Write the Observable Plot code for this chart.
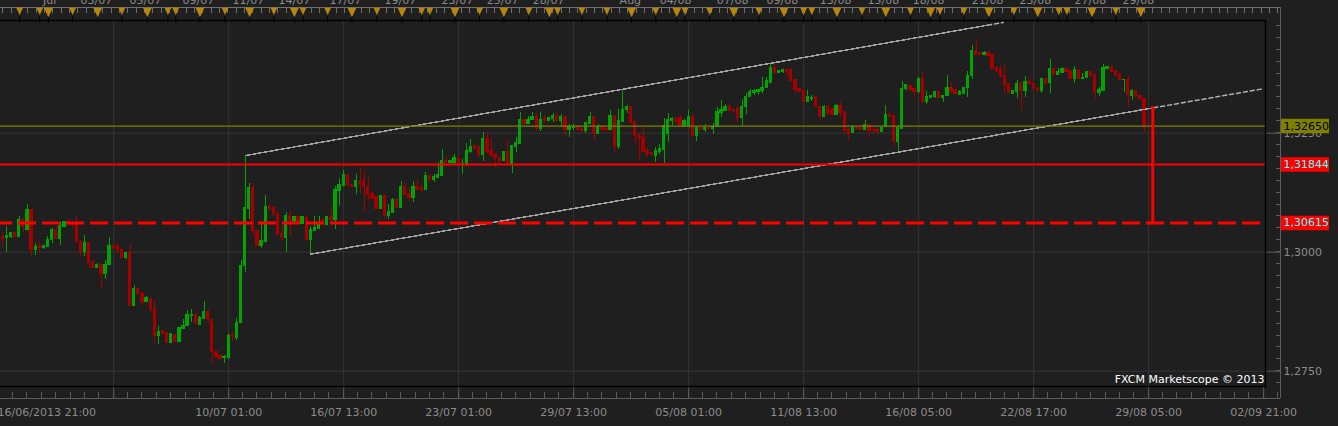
<!DOCTYPE html>
<html><head><meta charset="utf-8">
<script src="https://cdn.jsdelivr.net/npm/d3@7"></script>
<script src="https://cdn.jsdelivr.net/npm/@observablehq/plot@0.6"></script>
<style>
html,body{margin:0;padding:0;background:#1f1f1f;overflow:hidden}
#chart svg{display:block}
</style></head><body><div id="chart"></div>
<script>
// ---- candle data (EUR/USD style prices, one candle per position) ----
const opens = [
1.3032,1.3030,1.3032,1.3040,1.3032,1.3067,1.3047,1.3088,1.3004,1.3012,
1.3008,1.3011,1.3026,1.3046,1.3027,1.3053,1.3063,1.3062,1.3060,1.3021,
1.3000,1.3020,1.2979,1.2966,1.2974,1.2954,1.2973,1.3012,1.3011,1.3004,
1.2987,1.2998,1.2886,1.2922,1.2913,1.2896,1.2902,1.2881,1.2824,1.2834,
1.2831,1.2809,1.2827,1.2811,1.2838,1.2845,1.2867,1.2869,1.2848,1.2859,
1.2875,1.2858,1.2791,1.2782,1.2777,1.2777,1.2826,1.2819,1.2851,1.2972,
1.3090,1.3134,1.3044,1.3013,1.3021,1.3096,1.3092,1.3081,1.3039,1.3030,
1.3075,1.3065,1.3074,1.3060,1.3072,1.3025,1.3044,1.3048,1.3067,1.3058,
1.3074,1.3067,1.3128,1.3140,1.3163,1.3142,1.3138,1.3147,1.3149,1.3138,
1.3123,1.3116,1.3091,1.3119,1.3077,1.3082,1.3109,1.3093,1.3138,1.3123,
1.3114,1.3138,1.3135,1.3130,1.3161,1.3151,1.3156,1.3161,1.3191,1.3187,
1.3187,1.3196,1.3184,1.3186,1.3210,1.3223,1.3219,1.3205,1.3237,1.3212,
1.3205,1.3198,1.3191,1.3210,1.3186,1.3222,1.3228,1.3277,1.3270,1.3277,
1.3285,1.3258,1.3279,1.3275,1.3279,1.3287,1.3275,1.3285,1.3256,1.3261,
1.3263,1.3259,1.3254,1.3270,1.3285,1.3249,1.3263,1.3259,1.3256,1.3287,
1.3220,1.3273,1.3298,1.3306,1.3273,1.3245,1.3240,1.3212,1.3208,1.3203,
1.3210,1.3214,1.3248,1.3275,1.3280,1.3282,1.3264,1.3263,1.3285,1.3245,
1.3261,1.3256,1.3261,1.3259,1.3263,1.3292,1.3296,1.3306,1.3299,1.3301,
1.3282,1.3304,1.3326,1.3334,1.3336,1.3338,1.3345,1.3356,1.3388,1.3376,
1.3378,1.3382,1.3382,1.3361,1.3342,1.3338,1.3315,1.3322,1.3325,1.3306,
1.3285,1.3306,1.3300,1.3289,1.3308,1.3294,1.3257,1.3250,1.3261,1.3261,
1.3257,1.3268,1.3257,1.3256,1.3252,1.3263,1.3289,1.3287,1.3231,1.3259,
1.3342,1.3350,1.3342,1.3336,1.3363,1.3315,1.3323,1.3327,1.3336,1.3324,
1.3328,1.3344,1.3340,1.3331,1.3333,1.3345,1.3370,1.3422,1.3418,1.3414,
1.3418,1.3415,1.3387,1.3384,1.3371,1.3354,1.3333,1.3336,1.3354,1.3338,
1.3357,1.3354,1.3345,1.3338,1.3363,1.3355,1.3385,1.3373,1.3376,1.3384,
1.3380,1.3363,1.3383,1.3364,1.3366,1.3379,1.3373,1.3334,1.3338,1.3384,
1.3390,1.3380,1.3373,1.3361,1.3362,1.3329,1.3338,1.3328,1.3322];
const highs = [
1.3042,1.3054,1.3042,1.3042,1.3074,1.3070,1.3100,1.3088,1.3018,1.3023,
1.3014,1.3032,1.3049,1.3053,1.3063,1.3065,1.3068,1.3062,1.3075,1.3025,
1.3035,1.3020,1.2983,1.2977,1.2974,1.2983,1.3030,1.3013,1.3020,1.3004,
1.2999,1.3016,1.2929,1.2923,1.2915,1.2906,1.2902,1.2896,1.2844,1.2836,
1.2832,1.2829,1.2828,1.2840,1.2858,1.2878,1.2880,1.2869,1.2865,1.2896,
1.2878,1.2858,1.2792,1.2786,1.2783,1.2829,1.2834,1.2861,1.2983,1.3203,
1.3144,1.3145,1.3048,1.3065,1.3119,1.3100,1.3092,1.3081,1.3053,1.3083,
1.3088,1.3076,1.3075,1.3074,1.3077,1.3053,1.3074,1.3075,1.3070,1.3075,
1.3096,1.3137,1.3154,1.3172,1.3163,1.3143,1.3163,1.3175,1.3172,1.3156,
1.3126,1.3116,1.3119,1.3119,1.3100,1.3112,1.3112,1.3149,1.3144,1.3133,
1.3149,1.3153,1.3144,1.3168,1.3161,1.3163,1.3189,1.3216,1.3198,1.3193,
1.3205,1.3202,1.3195,1.3228,1.3236,1.3224,1.3224,1.3252,1.3254,1.3242,
1.3208,1.3198,1.3211,1.3235,1.3224,1.3242,1.3294,1.3278,1.3285,1.3294,
1.3292,1.3293,1.3287,1.3282,1.3291,1.3291,1.3290,1.3285,1.3268,1.3268,
1.3264,1.3259,1.3271,1.3294,1.3285,1.3268,1.3264,1.3261,1.3298,1.3287,
1.3299,1.3342,1.3309,1.3306,1.3273,1.3249,1.3261,1.3221,1.3210,1.3221,
1.3226,1.3280,1.3292,1.3284,1.3284,1.3287,1.3278,1.3298,1.3289,1.3263,
1.3262,1.3268,1.3265,1.3270,1.3304,1.3319,1.3310,1.3313,1.3301,1.3308,
1.3321,1.3333,1.3341,1.3341,1.3342,1.3366,1.3366,1.3397,1.3394,1.3382,
1.3384,1.3385,1.3385,1.3361,1.3345,1.3338,1.3340,1.3329,1.3325,1.3306,
1.3308,1.3308,1.3301,1.3311,1.3315,1.3294,1.3259,1.3266,1.3262,1.3262,
1.3277,1.3268,1.3263,1.3259,1.3262,1.3308,1.3296,1.3287,1.3266,1.3359,
1.3352,1.3350,1.3348,1.3366,1.3378,1.3338,1.3330,1.3338,1.3338,1.3329,
1.3371,1.3356,1.3341,1.3340,1.3347,1.3380,1.3434,1.3447,1.3419,1.3422,
1.3422,1.3415,1.3390,1.3390,1.3392,1.3354,1.3340,1.3361,1.3357,1.3369,
1.3362,1.3359,1.3346,1.3364,1.3364,1.3405,1.3388,1.3385,1.3388,1.3385,
1.3380,1.3390,1.3384,1.3376,1.3380,1.3380,1.3373,1.3347,1.3394,1.3390,
1.3390,1.3381,1.3375,1.3363,1.3369,1.3341,1.3340,1.3329,1.3322];
const lows = [
1.3013,1.3000,1.3028,1.3031,1.3032,1.3042,1.3046,1.2991,1.2993,1.3000,
1.3006,1.3011,1.3019,1.3027,1.3014,1.3051,1.3056,1.3051,1.3021,1.2991,
1.2991,1.2965,1.2965,1.2965,1.2924,1.2943,1.2973,1.3006,1.3002,1.2987,
1.2985,1.2885,1.2885,1.2911,1.2889,1.2894,1.2871,1.2809,1.2807,1.2828,
1.2808,1.2808,1.2810,1.2810,1.2838,1.2845,1.2853,1.2848,1.2848,1.2859,
1.2853,1.2765,1.2779,1.2775,1.2767,1.2775,1.2812,1.2815,1.2851,1.2957,
1.3069,1.3035,1.3011,1.3007,1.3021,1.3088,1.3076,1.3035,1.3025,1.3000,
1.3034,1.3061,1.3062,1.3058,1.3022,1.2995,1.3044,1.3048,1.3056,1.3057,
1.3063,1.3048,1.3095,1.3140,1.3138,1.3137,1.3121,1.3124,1.3084,1.3107,
1.3110,1.3090,1.3090,1.3072,1.3068,1.3082,1.3091,1.3093,1.3121,1.3104,
1.3105,1.3130,1.3126,1.3130,1.3147,1.3146,1.3156,1.3161,1.3186,1.3186,
1.3184,1.3181,1.3163,1.3181,1.3208,1.3215,1.3198,1.3191,1.3208,1.3200,
1.3177,1.3187,1.3190,1.3182,1.3166,1.3210,1.3228,1.3268,1.3268,1.3277,
1.3256,1.3254,1.3271,1.3274,1.3273,1.3274,1.3261,1.3240,1.3240,1.3256,
1.3255,1.3249,1.3250,1.3270,1.3233,1.3249,1.3255,1.3252,1.3256,1.3209,
1.3216,1.3273,1.3291,1.3270,1.3228,1.3193,1.3210,1.3198,1.3203,1.3189,
1.3205,1.3186,1.3231,1.3266,1.3268,1.3263,1.3261,1.3263,1.3240,1.3233,
1.3256,1.3252,1.3257,1.3247,1.3263,1.3282,1.3296,1.3296,1.3292,1.3273,
1.3265,1.3289,1.3326,1.3329,1.3329,1.3334,1.3345,1.3354,1.3375,1.3375,
1.3376,1.3368,1.3359,1.3333,1.3336,1.3313,1.3315,1.3317,1.3303,1.3278,
1.3284,1.3288,1.3289,1.3289,1.3282,1.3252,1.3233,1.3249,1.3257,1.3256,
1.3256,1.3240,1.3249,1.3247,1.3252,1.3261,1.3284,1.3222,1.3207,1.3259,
1.3340,1.3338,1.3326,1.3334,1.3313,1.3310,1.3322,1.3322,1.3322,1.3315,
1.3328,1.3333,1.3332,1.3329,1.3331,1.3324,1.3363,1.3415,1.3414,1.3413,
1.3413,1.3383,1.3378,1.3368,1.3334,1.3333,1.3332,1.3322,1.3298,1.3326,
1.3352,1.3343,1.3338,1.3333,1.3354,1.3333,1.3371,1.3371,1.3376,1.3377,
1.3362,1.3355,1.3363,1.3362,1.3366,1.3370,1.3322,1.3327,1.3338,1.3383,
1.3378,1.3371,1.3361,1.3335,1.3305,1.3319,1.3324,1.3321,1.3252];
const closes = [
1.3028,1.3034,1.3040,1.3032,1.3067,1.3053,1.3088,1.3004,1.3011,1.3009,
1.3013,1.3026,1.3046,1.3027,1.3054,1.3063,1.3060,1.3058,1.3021,1.3000,
1.3020,1.2977,1.2967,1.2974,1.2954,1.2974,1.3012,1.3007,1.3002,1.2987,
1.2998,1.2886,1.2922,1.2912,1.2896,1.2904,1.2880,1.2824,1.2833,1.2829,
1.2809,1.2828,1.2811,1.2840,1.2846,1.2869,1.2869,1.2850,1.2861,1.2875,
1.2858,1.2790,1.2780,1.2776,1.2780,1.2825,1.2821,1.2852,1.2972,1.3092,
1.3134,1.3044,1.3013,1.3023,1.3096,1.3090,1.3080,1.3037,1.3030,1.3076,
1.3065,1.3073,1.3063,1.3074,1.3025,1.3046,1.3051,1.3058,1.3058,1.3074,
1.3067,1.3130,1.3142,1.3163,1.3140,1.3138,1.3149,1.3144,1.3137,1.3121,
1.3112,1.3091,1.3119,1.3077,1.3084,1.3109,1.3093,1.3138,1.3121,1.3114,
1.3138,1.3131,1.3130,1.3161,1.3151,1.3159,1.3163,1.3191,1.3187,1.3192,
1.3197,1.3186,1.3186,1.3212,1.3222,1.3216,1.3205,1.3237,1.3210,1.3203,
1.3198,1.3191,1.3210,1.3186,1.3224,1.3229,1.3277,1.3270,1.3278,1.3285,
1.3258,1.3278,1.3275,1.3281,1.3287,1.3275,1.3285,1.3256,1.3263,1.3263,
1.3256,1.3254,1.3271,1.3285,1.3249,1.3263,1.3256,1.3256,1.3287,1.3220,
1.3275,1.3299,1.3306,1.3271,1.3245,1.3240,1.3210,1.3207,1.3204,1.3212,
1.3216,1.3266,1.3277,1.3279,1.3274,1.3264,1.3275,1.3285,1.3245,1.3261,
1.3257,1.3261,1.3259,1.3263,1.3294,1.3298,1.3306,1.3296,1.3296,1.3282,
1.3304,1.3327,1.3336,1.3338,1.3340,1.3346,1.3359,1.3388,1.3376,1.3380,
1.3382,1.3379,1.3359,1.3340,1.3337,1.3315,1.3325,1.3324,1.3305,1.3285,
1.3306,1.3291,1.3289,1.3308,1.3292,1.3254,1.3249,1.3261,1.3258,1.3257,
1.3268,1.3254,1.3256,1.3252,1.3261,1.3289,1.3285,1.3231,1.3261,1.3343,
1.3352,1.3340,1.3336,1.3363,1.3315,1.3325,1.3329,1.3336,1.3324,1.3329,
1.3344,1.3336,1.3333,1.3336,1.3345,1.3371,1.3422,1.3415,1.3415,1.3418,
1.3413,1.3384,1.3380,1.3369,1.3352,1.3334,1.3338,1.3354,1.3338,1.3357,
1.3354,1.3343,1.3338,1.3363,1.3354,1.3385,1.3373,1.3378,1.3384,1.3378,
1.3363,1.3383,1.3364,1.3367,1.3379,1.3371,1.3334,1.3340,1.3387,1.3390,
1.3378,1.3371,1.3362,1.3362,1.3331,1.3338,1.3326,1.3322,1.3263];

// ---- time axis (candle positions) ----
const startLabel = "16/06/2013 21:00";
const bottomTickPositions = [55, 83, 111, 139, 167, 195, 223, 251, 279, 307];
const bottomTickLabels = ["10/07 01:00","16/07 13:00","23/07 01:00","29/07 13:00","05/08 01:00",
  "11/08 13:00","16/08 05:00","22/08 17:00","29/08 05:00","02/09 21:00"];
const gridPositions = [27, 55, 83, 111, 139, 167, 195, 223, 251, 279];
const topDayPositions = [11.4,22.8,34.7,47.6,59.8,71.0,83.4,96.8,110.7,121.7,132.9,152.8,163.8,177.7,189.8,202.8,214.4,225.4,239.8,251.4,264.8,276.5];
const topDayLabels = ["Jul","03/07","05/07","09/07","11/07","14/07","17/07","19/07","23/07","25/07","28/07",
  "Aug","04/08","07/08","09/08","13/08","15/08","18/08","21/08","23/08","27/08","29/08"];
const eventPositions = [4.1,9.0,11.1,17.0,23.1,29.0,35.2,40.2,42.1,48.0,54.1,60.1,66.0,71.0,73.1,79.1,85.0,91.1,97.2,102.0,
  104.0,110.1,116.1,122.0,128.1,133.1,135.1,141.0,147.1,153.1,159.0,164.1,166.1,172.1,178.0,184.1,190.2,195.0,197.0,203.1,
  209.2,215.0,221.0,225.9,228.2,234.0,240.1,246.2,252.0,257.1,259.1,265.2,271.0,277.1];
const eventMajor = [0,0,1,0,1,0,1,0,0,1,0,1,0,1,0,0,1,0,1,0,
  0,1,0,1,0,1,0,0,0,1,0,1,0,0,1,0,1,0,0,1,
  0,1,0,1,0,0,1,0,1,0,0,1,0,1];

// ---- price axis & levels ----
const yTickValues = [1.275, 1.3, 1.325];
const yTickLabels = ["1,2750", "1,3000", "1,3250"];
const levelValues = [1.3265, 1.31844, 1.30615];
const levelLabels = ["1,32650", "1,31844", "1,30615"];
const levelBg = ["#808000", "#ff0000", "#ff0000"];
const levelFg = ["#000000", "#4dffff", "#4dffff"];
const targetLine = [{i: 280, from: 1.30615, to: 1.3306}];
const channelUpper = [[59.1, 1.32031], [239.8, 1.34769]];
const channelUpperExt = [[239.8, 1.34769], [243.6, 1.34826]];
const channelLower = [[74.9, 1.29958], [280.25, 1.33034]];
const channelLowerExt = [[280.25, 1.33034], [307.0, 1.33435]];
const watermark = "FXCM Marketscope \u00A9 2013";

const GREEN = "#00a400", RED = "#a40000", GRID = "#353535", AXIS = "#5c5c5c", LABEL = "#8c8c8c";

const candles = opens.map((o, i) => ({i, open: o, high: highs[i], low: lows[i], close: closes[i], up: closes[i] > o}));
const bottomTicks = bottomTickPositions.map((p, k) => ({i: p, label: bottomTickLabels[k]}));
const topDays = topDayPositions.map((p, k) => ({i: p, label: topDayLabels[k]}));
const events = eventPositions.map((p, k) => ({i: p, major: eventMajor[k] === 1}));
const yTicks = yTickValues.map((v, k) => ({v, label: yTickLabels[k]}));
const levels = levelValues.map((v, k) => ({v, label: levelLabels[k], bg: levelBg[k], fg: levelFg[k]}));

const downTriangle = {
  draw(ctx, size) {
    const r = Math.sqrt(size / Math.PI);
    const w = r * 1.9, h = r * 2;
    ctx.moveTo(-w / 2, 0); ctx.lineTo(w / 2, 0); ctx.lineTo(0, h); ctx.closePath();
  }
};

// axis rulers (bottom time axis, right price axis, top event ruler) drawn via the plot's scales
const bottomMinor = d3.range(2.5, 311, 3.5);
const rightMinor = d3.range(0, 31).map(k => 1.2725 + k * 0.0025);
const rulerTicks = d3.range(0.1, 311, 2.029);
function axesDecor(index, scales, values, dims) {
  const x = scales.x, y = scales.y;
  const left = dims.marginLeft, right = dims.width - dims.marginRight;
  const top = dims.marginTop, bottom = dims.height - dims.marginBottom;
  const axisX = right + 15.3, axisY = bottom + 12.3, rulerY = top - 12.7;
  const g = d3.create("svg:g").attr("fill", "none").attr("shape-rendering", "crispEdges");
  const line = (x1, y1, x2, y2, c) => g.append("line").attr("x1", x1).attr("y1", y1).attr("x2", x2).attr("y2", y2).attr("stroke", c);
  line(left, axisY, axisX, axisY, AXIS);
  for (const t of bottomMinor) { const px = x(t); if (px <= axisX) line(px, axisY - 6.6, px, axisY, AXIS); }
  line(axisX, rulerY, axisX, axisY, AXIS);
  for (const v of rightMinor) { const py = y(v); line(axisX - 4.5, py, axisX, py, AXIS); }
  line(left, rulerY, axisX, rulerY, "#6e6e6e");
  for (const t of rulerTicks) { const px = x(t); if (px <= axisX) line(px, rulerY, px, rulerY + 5.5, "#6e6e6e"); }
  return g.node();
}

const chart = Plot.plot({
  width: 1338, height: 426,
  marginLeft: 0, marginRight: 73, marginTop: 20, marginBottom: 40,
  style: {background: "#1f1f1f", fontFamily: "DejaVu Sans", fontSize: "11px", color: LABEL},
  x: {domain: [-0.56, 307.45], axis: null},
  y: {domain: [1.271786, 1.348676], axis: null},
  color: {type: "identity"},
  marks: [
    Plot.ruleX(gridPositions, {x: d => d, stroke: GRID}),
    Plot.ruleX(gridPositions.concat([307]), {x: d => d, stroke: AXIS, insetTop: 366, insetBottom: -12.3}),
    Plot.ruleY(yTickValues, {y: d => d, stroke: GRID}),
    Plot.ruleY(yTickValues, {y: d => d, stroke: AXIS, insetLeft: 1266, insetRight: -15.3}),
    // candles
    Plot.ruleX(candles, {x: "i", y1: "low", y2: "high", stroke: d => d.up ? GREEN : RED, shapeRendering: "crispEdges"}),
    Plot.rect(candles, {x1: d => d.i - 0.4, x2: d => d.i + 0.4, y1: "open", y2: "close",
      fill: d => d.up ? GREEN : RED, insetTop: -0.5, insetBottom: -0.5, shapeRendering: "crispEdges"}),
    // channel
    Plot.line(channelUpper, {x: d => d[0], y: d => d[1], stroke: "#a0a0a0", shapeRendering: "crispEdges"}),
    Plot.line(channelUpperExt, {x: d => d[0], y: d => d[1], stroke: "#b0b0b0", strokeDasharray: "4,3"}),
    Plot.line(channelLower, {x: d => d[0], y: d => d[1], stroke: "#a0a0a0", shapeRendering: "crispEdges"}),
    Plot.line(channelLowerExt, {x: d => d[0], y: d => d[1], stroke: "#b0b0b0", strokeDasharray: "4,3"}),
    // levels
    Plot.ruleY([levelValues[0]], {y: d => d, stroke: "#808000", strokeWidth: 1.2}),
    Plot.ruleY([levelValues[1]], {y: d => d, stroke: "#ff0000", strokeWidth: 2}),
    Plot.ruleY([levelValues[2]], {y: d => d, stroke: "#ff0000", strokeWidth: 3, strokeDasharray: "18,6", strokeDashoffset: 6}),
    Plot.ruleX(targetLine, {x: "i", y1: "from", y2: "to", stroke: "#ff0000", strokeWidth: 3}),
    Plot.frame({stroke: "#000000", strokeWidth: 1.5, insetLeft: -2}),
    axesDecor,
    // event markers
    Plot.ruleX(events, {x: "i", stroke: "#000000", insetTop: -4, insetBottom: 363.3}),
    Plot.dot(events.filter(d => d.major), {x: "i", frameAnchor: "top", dy: -12.7, r: 4.7, symbol: downTriangle, fill: "#b8860b", stroke: "none"}),
    Plot.dot(events.filter(d => !d.major), {x: "i", frameAnchor: "top", dy: -12.7, r: 3.6, symbol: downTriangle, fill: "#b8860b", stroke: "none"}),
    // labels
    Plot.text(topDays, {x: "i", text: "label", frameAnchor: "top", lineAnchor: "bottom", dy: -16.5, fill: LABEL, fontSize: 11}),
    Plot.text(bottomTicks, {x: "i", text: "label", frameAnchor: "bottom", lineAnchor: "bottom", dy: 29.7, fill: LABEL, fontSize: 11}),
    Plot.text([startLabel], {text: d => d, frameAnchor: "bottom-left", textAnchor: "start", lineAnchor: "bottom", dx: -3, dy: 29.7, fill: LABEL, fontSize: 11}),
    Plot.text(yTicks, {y: "v", text: "label", frameAnchor: "right", textAnchor: "start", dx: 18, fill: LABEL, fontSize: 11}),
    Plot.ruleY(levels, {y: "v", stroke: "bg", strokeWidth: 14.5, insetLeft: 1281, insetRight: -64}),
    Plot.text(levels, {y: "v", text: "label", frameAnchor: "right", textAnchor: "start", dx: 18, fill: "fg", fontSize: 11}),
    Plot.text([watermark], {text: d => d, frameAnchor: "bottom-right", textAnchor: "end", lineAnchor: "bottom", dx: -1, dy: -3.3, fill: "#ffffff", fontSize: 11})
  ]
});
document.getElementById("chart").appendChild(chart);
</script>
</body></html>
